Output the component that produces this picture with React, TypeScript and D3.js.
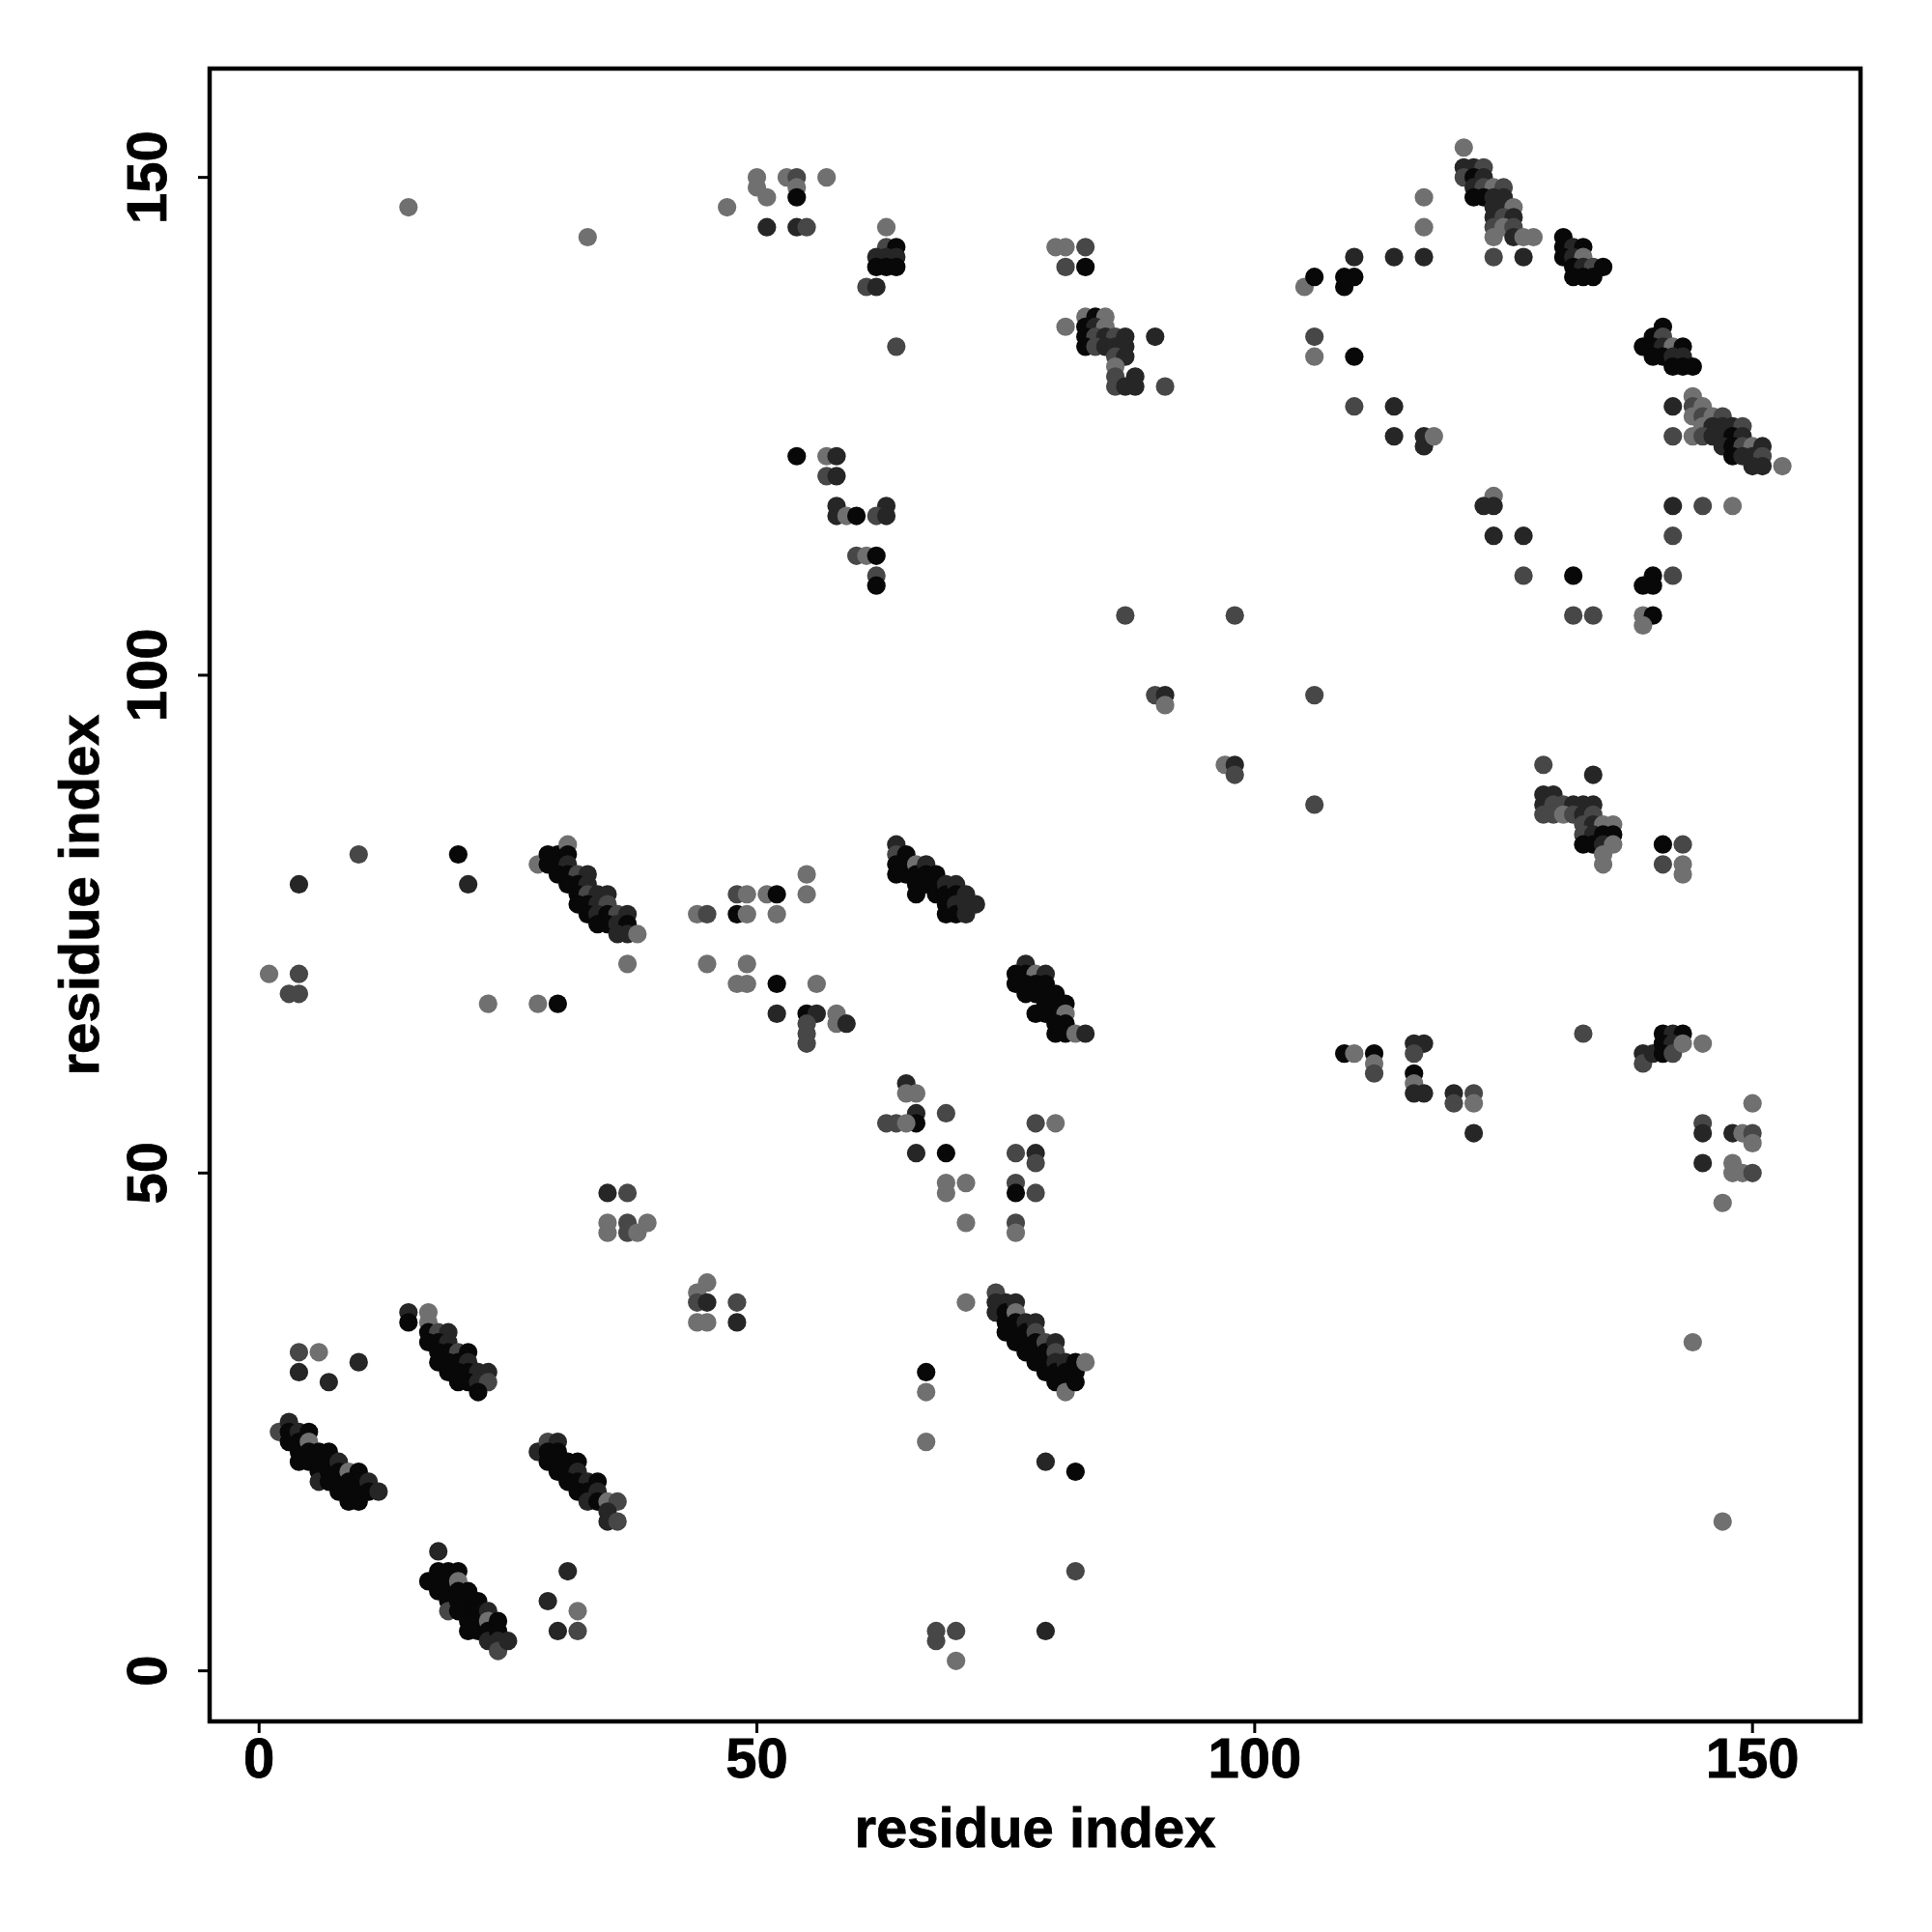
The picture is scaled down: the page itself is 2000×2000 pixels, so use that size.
import React from 'react';
import * as d3 from 'd3';

type P = [number, number, number];

// shade index: 0 black, 1 dark, 2 dark gray, 3 gray
const shades = ['#080808', '#262626', '#474747', '#707070'];
const xTicks = [0, 50, 100, 150];
const yTicks = [0, 50, 100, 150];
const xLabel = 'residue index';
const yLabel = 'residue index';

const topScatter: P[] = [
  [15,147,3],[33,144,3],[47,147,3],
  [50,150,3],[50,149,3],[51,148,3],[53,150,3],[54,150,2],[54,149,3],[54,148,0],[51,145,1],[54,145,1],[55,145,2],[57,150,3],
];
const cluster61: P[] = [
  [63,145,3],[63,143,2],[64,143,0],[62,142,1],[63,142,1],[64,142,1],[62,141,0],[63,141,0],[64,141,0],[61,139,2],[62,139,1],[64,133,2],
];
const cluster80: P[] = [[80,143,3],[81,143,3],[83,143,2],[81,141,2],[83,141,0]];
const bandM: P[] = [
  [81,135,3],[83,136,3],[84,136,0],[85,136,3],[83,135,0],[84,135,1],[85,135,3],[83,134,0],[84,134,2],[85,134,1],[86,134,2],[87,134,1],
  [83,133,0],[84,133,2],[85,133,1],[86,133,1],[87,133,1],[86,132,2],[87,132,1],[86,131,3],[86,130,2],[88,130,1],[86,129,2],[87,129,1],[88,129,1],[90,134,1],[91,129,2],
];
const cluster58: P[] = [
  [54,122,0],[57,122,3],[58,122,1],[57,120,2],[58,120,1],[58,117,1],[63,117,1],[58,116,1],[59,116,3],[60,116,0],[62,116,2],[63,116,1],
  [60,112,2],[61,112,3],[62,112,0],[62,110,2],[62,109,0],
];
const middleScatter: P[] = [
  [87,106,2],[98,106,2],[90,98,2],[91,98,1],[91,97,3],[106,98,2],[97,91,3],[98,91,1],[98,90,2],[106,87,2],
];
const upperRightScatter: P[] = [
  [105,139,3],[106,140,0],[109,140,0],[110,140,0],[109,139,0],[110,142,1],[114,142,1],[117,142,1],[117,148,3],[117,145,3],
  [106,134,2],[106,132,3],[110,132,0],[110,127,2],[114,127,1],[114,124,1],[117,124,1],[117,123,1],[118,124,3],
];
const bandI: P[] = [
  [121,153,3],[121,151,1],[122,151,1],[123,151,2],[121,150,2],[122,150,0],[123,150,1],[122,149,1],[123,149,2],[124,149,3],[125,149,2],
  [122,148,0],[123,148,0],[124,148,1],[125,148,1],[124,147,1],[125,147,1],[126,147,3],[124,146,1],[125,146,2],[126,146,1],
  [124,145,2],[125,145,3],[126,145,2],[124,144,3],[126,144,1],[127,144,3],[128,144,3],[124,142,2],[127,142,1],
];
const bandJ: P[] = [
  [131,144,0],[131,143,0],[132,143,1],[133,143,0],[131,142,0],[132,142,1],[133,142,3],[132,141,0],[133,141,1],[134,141,2],[135,141,0],
  [132,140,0],[133,140,0],[134,140,0],
];
const bandK: P[] = [
  [141,135,0],[140,134,0],[141,134,2],[139,133,0],[140,133,0],[141,133,1],[142,133,3],[143,133,0],[140,132,0],[141,132,0],[142,132,1],
  [143,132,1],[142,131,0],[143,131,0],[144,131,0],
];
const bandL: P[] = [
  [144,128,3],[142,127,1],[144,127,2],[145,127,3],[144,126,3],[145,126,2],[146,126,3],[147,126,2],[145,125,3],[146,125,1],[147,125,1],
  [148,125,1],[149,125,2],[142,124,2],[144,124,3],[145,124,2],[146,124,1],[147,124,1],[148,124,0],[149,124,1],[147,123,1],[148,123,0],
  [149,123,2],[150,123,3],[151,123,1],[148,122,0],[149,122,1],[150,122,1],[151,122,2],[150,121,1],[151,121,1],[153,121,3],
];
const rightScatter: P[] = [
  [124,118,3],[123,117,1],[124,117,1],[124,114,1],[127,114,1],[127,110,2],[132,110,0],[140,110,0],[139,109,0],[140,109,0],[142,110,2],
  [142,117,1],[145,117,2],[148,117,3],[142,114,2],[132,106,2],[134,106,2],[139,106,3],[140,106,0],[139,105,3],
];
const bandN: P[] = [
  [129,91,2],[134,90,1],[129,88,1],[130,88,1],[129,87,1],[130,87,2],[131,87,2],[132,87,1],[133,87,1],[134,87,1],[129,86,2],[130,86,2],
  [131,86,3],[132,86,2],[133,86,1],[134,86,2],[133,85,2],[134,85,1],[135,85,3],[136,85,3],[133,84,2],[134,84,1],[135,84,0],[136,84,0],
  [133,83,0],[134,83,0],[135,83,1],[136,83,3],[135,82,3],[135,81,3],
  [141,83,0],[143,83,2],[141,81,2],[143,81,3],[143,80,3],
];
const bandE: P[] = [
  [28,81,3],[29,82,0],[30,82,0],[31,83,3],[31,82,0],[29,81,0],[30,81,0],[31,81,1],[30,80,0],[31,80,0],[32,80,2],[33,80,1],[31,79,0],
  [32,79,0],[33,79,1],[32,78,0],[33,78,2],[34,78,1],[35,78,1],[32,77,0],[33,77,0],[34,77,1],[35,77,2],[33,76,0],[34,76,1],[35,76,0],
  [36,76,2],[37,76,1],[34,75,0],[35,75,0],[36,75,1],[37,75,0],[36,74,1],[37,74,1],[38,74,3],[37,71,3],
];
const leftScatter: P[] = [
  [10,82,2],[20,82,0],[4,79,1],[21,79,1],[1,70,3],[4,70,2],[3,68,2],[4,68,2],[23,67,3],[28,67,3],[30,67,0],
];
const midScatter: P[] = [
  [44,76,3],[45,76,2],[48,76,0],[49,76,3],[48,78,2],[49,78,3],[51,78,3],[52,78,0],[55,78,3],[55,80,3],[52,76,3],[45,71,3],[49,71,3],
  [48,69,3],[49,69,3],[52,69,0],[56,69,3],[52,66,1],[55,66,0],[56,66,1],[58,66,3],[58,65,3],[59,65,1],[55,65,2],[55,64,2],[55,63,2],
];
const bandF: P[] = [
  [64,83,1],[64,82,2],[64,81,0],[64,80,0],[65,82,0],[65,81,0],[65,80,0],[66,81,3],[66,80,0],[66,79,0],[66,78,0],[67,81,1],[67,80,0],
  [67,79,0],[68,80,0],[68,79,0],[68,78,0],[69,79,1],[69,78,0],[69,77,0],[69,76,0],[70,79,1],[70,78,0],[70,77,1],[70,76,0],[71,78,1],
  [71,77,1],[71,76,1],[72,77,1],
];
const bandH: P[] = [
  [77,71,1],[76,70,0],[77,70,0],[78,70,3],[79,70,1],[76,69,0],[77,69,0],[78,69,0],[79,69,0],[77,68,0],[78,68,0],[79,68,0],[80,68,0],
  [79,67,0],[80,67,0],[81,67,0],[78,66,0],[79,66,0],[80,66,0],[81,66,3],[80,65,0],[81,65,0],[80,64,0],[81,64,0],[82,64,3],[83,64,1],
];
const lowerMidScatter: P[] = [
  [65,59,1],[65,58,3],[66,58,3],[66,56,1],[66,55,0],[63,55,2],[64,55,2],[65,55,3],[69,56,2],[66,52,1],[69,52,0],[69,49,3],[69,48,3],
  [71,49,3],[71,45,3],[78,55,2],[80,55,3],[76,52,2],[78,52,1],[78,51,2],[76,49,2],[76,48,0],[78,48,2],[76,45,2],[76,44,3],
];
const scatter40: P[] = [
  [35,48,1],[37,48,2],[35,45,3],[35,44,3],[37,45,2],[37,44,2],[38,44,3],[39,45,3],[45,39,3],[44,38,3],[44,37,2],[45,37,1],[48,37,2],
  [44,35,3],[45,35,3],[48,35,1],
];
const bandG: P[] = [
  [74,38,2],[74,37,1],[74,36,1],[75,37,1],[75,36,0],[75,35,0],[75,34,0],[76,37,1],[76,36,3],[76,35,0],[76,34,0],[76,33,0],[77,35,1],
  [77,34,0],[77,33,0],[77,32,0],[78,35,1],[78,34,2],[78,33,0],[78,32,0],[78,31,0],[79,33,2],[79,32,0],[79,31,0],[79,30,0],[80,33,1],
  [80,32,2],[80,31,1],[80,30,0],[80,29,0],[81,31,1],[81,30,0],[81,29,0],[81,28,3],[82,31,0],[82,30,0],[82,29,0],[83,31,3],[71,37,3],
];
const bottomMidScatter: P[] = [
  [67,30,0],[67,28,3],[67,23,3],[79,21,1],[82,20,0],[82,10,2],[68,4,2],[70,4,2],[68,3,2],[70,1,3],[79,4,1],
];
const bandC: P[] = [
  [15,36,1],[15,35,0],[17,36,3],[17,35,3],[17,34,0],[18,34,2],[19,34,1],[17,33,0],[18,33,0],[19,33,1],[18,32,0],[19,32,0],[20,32,2],
  [21,32,0],[18,31,0],[19,31,0],[20,31,0],[21,31,1],[19,30,0],[20,30,0],[21,30,0],[22,30,1],[23,30,1],[20,29,0],[21,29,0],[22,29,1],
  [23,29,2],[22,28,0],
];
const scatterC: P[] = [[4,32,2],[6,32,3],[4,30,1],[7,29,1],[10,31,1]];
const bandA: P[] = [
  [2,24,2],[3,25,1],[3,24,0],[3,23,0],[4,24,1],[4,23,0],[4,22,0],[4,21,0],[5,24,0],[5,23,3],[5,22,0],[5,21,0],[6,22,0],[6,21,0],
  [6,20,0],[6,19,1],[7,22,0],[7,21,0],[7,20,0],[7,19,0],[8,21,1],[8,20,0],[8,19,0],[8,18,0],[9,20,3],[9,19,0],[9,18,0],[9,17,0],
  [10,20,0],[10,19,0],[10,18,0],[10,17,0],[11,19,1],[11,18,0],[12,18,1],
];
const bandB: P[] = [
  [18,12,1],[17,9,0],[18,10,0],[18,9,0],[18,8,0],[19,10,0],[19,9,0],[19,8,0],[19,7,0],[19,6,2],[20,10,0],[20,9,3],[20,8,0],[20,7,0],
  [20,6,0],[21,8,0],[21,7,0],[21,6,0],[21,5,0],[21,4,0],[22,7,0],[22,6,0],[22,5,0],[22,4,0],[23,6,1],[23,5,3],[23,4,0],[23,3,1],
  [24,5,0],[24,4,0],[24,3,1],[24,2,2],[25,3,1],
];
const scatterB: P[] = [[31,10,1],[29,7,1],[32,6,3],[30,4,1],[32,4,2]];
const bandD: P[] = [
  [28,22,1],[29,23,2],[30,23,1],[29,22,0],[30,22,0],[29,21,0],[30,21,0],[31,21,0],[32,21,0],[30,20,0],[31,20,0],[32,20,1],[31,19,0],
  [32,19,0],[33,19,1],[34,19,0],[32,18,0],[33,18,0],[34,18,1],[33,17,1],[34,17,0],[35,17,3],[36,17,2],[35,16,1],[35,15,1],[36,15,2],
];
const lowerRight: P[] = [
  [109,62,0],[110,62,3],[112,62,0],[112,61,3],[112,60,2],[116,63,1],[117,63,1],[116,62,2],[116,60,0],[116,59,3],[116,58,1],[117,58,1],
  [120,58,1],[120,57,2],[122,58,2],[122,57,3],[122,54,1],[133,64,2],[139,62,1],[139,61,2],[140,62,1],[141,64,0],[142,64,1],[143,64,0],
  [141,63,0],[142,63,1],[141,62,0],[142,62,2],[143,63,3],[145,63,3],[150,57,3],[145,55,2],[145,54,1],[148,54,1],[149,54,3],[150,54,2],
  [150,53,3],[145,51,1],[148,51,3],[148,50,3],[149,50,3],[150,50,2],[147,47,3],[144,33,3],[147,15,3],
];

const allPoints: P[] = [
  ...topScatter, ...cluster61, ...cluster80, ...bandM, ...cluster58, ...middleScatter, ...upperRightScatter,
  ...bandI, ...bandJ, ...bandK, ...bandL, ...rightScatter, ...bandN, ...bandE, ...leftScatter, ...midScatter,
  ...bandF, ...bandH, ...lowerMidScatter, ...scatter40, ...bandG, ...bottomMidScatter, ...bandC, ...scatterC,
  ...bandA, ...bandB, ...scatterB, ...bandD, ...lowerRight,
];

export default function App() {
  const left = 217, right = 1926, top = 71, bottom = 1782;
  const x = d3.scaleLinear().domain([-4.97, 160.85]).range([left, right]);
  const y = d3.scaleLinear().domain([-5.08, 160.93]).range([bottom, top]);
  const fs = 58;
  const font = "'Liberation Sans', Arial, Helvetica, sans-serif";
  return (
    <svg width={2000} height={2000} style={{ position: 'absolute', left: 0, top: 0 }} fontFamily={font}>
      <rect x={0} y={0} width={2000} height={2000} fill="#ffffff" />
      <g>
        {allPoints.map(([px, py, s], i) => (
          <circle key={i} cx={x(px)} cy={y(py)} r={9.6} fill={shades[s]} />
        ))}
      </g>
      <rect x={left} y={top} width={right - left} height={bottom - top} fill="none" stroke="#000" strokeWidth={4.5} />
      {xTicks.map((t) => (
        <g key={'x' + t}>
          <line x1={x(t)} x2={x(t)} y1={bottom} y2={bottom + 12} stroke="#000" strokeWidth={3} />
          <text x={x(t)} y={1840} textAnchor="middle" fontSize={fs} fontWeight="bold" fill="#000" stroke="#000" strokeWidth={0.8}>{t}</text>
        </g>
      ))}
      {yTicks.map((t) => (
        <g key={'y' + t}>
          <line x1={left - 12} x2={left} y1={y(t)} y2={y(t)} stroke="#000" strokeWidth={3} />
          <text transform={`translate(172,${y(t)}) rotate(-90)`} textAnchor="middle" fontSize={fs} fontWeight="bold" fill="#000" stroke="#000" strokeWidth={0.8}>{t}</text>
        </g>
      ))}
      <text x={(left + right) / 2} y={1912} textAnchor="middle" fontSize={fs} fontWeight="bold" fill="#000" stroke="#000" strokeWidth={0.8}>{xLabel}</text>
      <text transform={`translate(102,${(top + bottom) / 2}) rotate(-90)`} textAnchor="middle" fontSize={fs} fontWeight="bold" fill="#000" stroke="#000" strokeWidth={0.8}>{yLabel}</text>
    </svg>
  );
}
